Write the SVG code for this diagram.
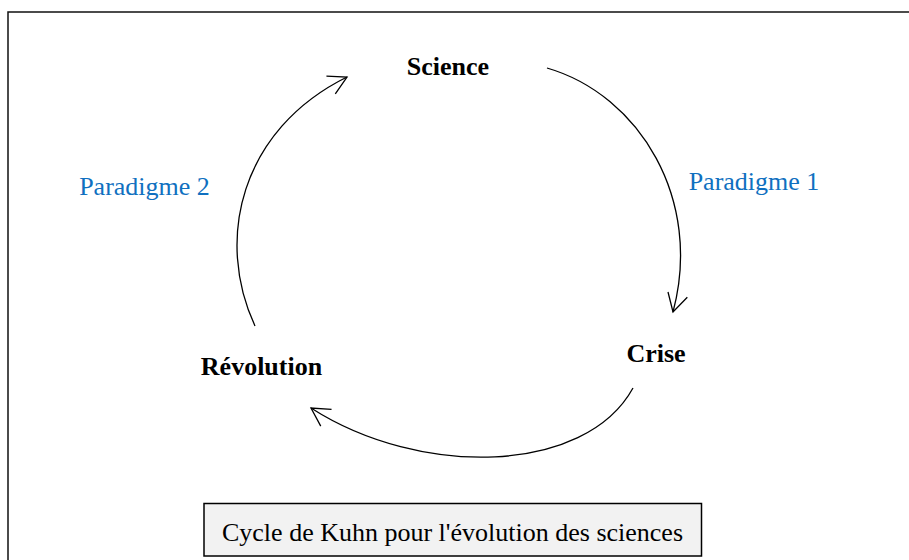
<svg xmlns="http://www.w3.org/2000/svg" width="909" height="560" viewBox="0 0 909 560">
<style>
.node{font-family:"Liberation Serif","Times New Roman",serif;font-size:26px;font-weight:bold;fill:#000;text-anchor:middle}
.para{font-family:"Liberation Serif","Times New Roman",serif;font-size:26px;fill:#0f70c0;text-anchor:middle}
.cap{font-family:"Liberation Serif","Times New Roman",serif;font-size:26px;fill:#000;text-anchor:middle}
.conn{fill:none;stroke:#000;stroke-width:1.3;marker-end:url(#arr)}
</style>
<defs>
<marker id="arr" markerUnits="userSpaceOnUse" markerWidth="30" markerHeight="30" viewBox="-25 -15 30 30" refX="0" refY="0" orient="auto">
<path d="M-18,-10 L0,0 L-18,10" fill="none" stroke="#000" stroke-width="1.3"/>
</marker>
</defs>
<rect x="0" y="0" width="909" height="560" fill="#fff"/>
<rect x="8" y="12" width="920" height="570" fill="none" stroke="#111" stroke-width="1.5"/>
<g id="connectors">
<path class="conn" d="M547,68 C640,95 703,200 673,312"/>
<path class="conn" d="M633,388 C585,475 420,478 311,408"/>
<path class="conn" d="M255,326 C215,240 240,130 347,77"/>
</g>
<g id="science"><text class="node" x="448" y="75">Science</text></g>
<g id="crise"><text class="node" x="656" y="362">Crise</text></g>
<g id="revolution"><text class="node" x="261.5" y="375">Révolution</text></g>
<g id="paradigme1"><text class="para" x="754" y="190">Paradigme 1</text></g>
<g id="paradigme2"><text class="para" x="144.5" y="195">Paradigme 2</text></g>
<g id="caption">
<rect x="204" y="503.5" width="497.5" height="52.5" fill="#f2f2f2" stroke="#000" stroke-width="1.5"/>
<text class="cap" x="452.5" y="541">Cycle de Kuhn pour l'évolution des sciences</text>
</g>
</svg>
